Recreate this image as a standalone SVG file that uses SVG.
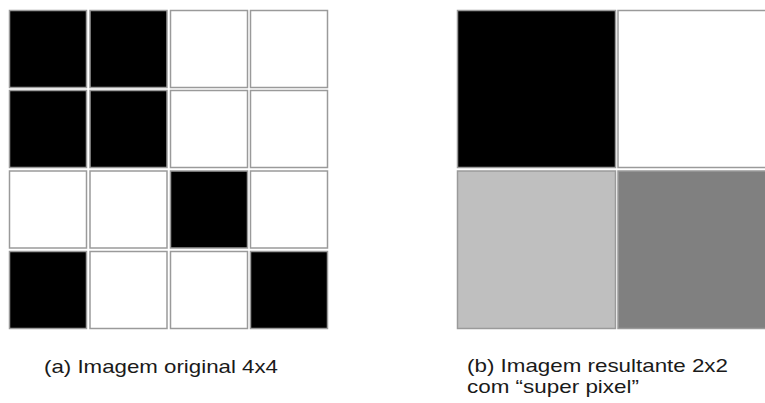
<svg xmlns="http://www.w3.org/2000/svg" width="765" height="403" viewBox="0 0 765 403">
<style>
rect.c{stroke:#9a9a9a;stroke-width:1.5}
.b{fill:#000}
.w{fill:#fff}
.l{fill:#bfbfbf}
.d{fill:#808080}
text{font-family:"Liberation Sans",Arial,sans-serif;font-size:18.5px;fill:#1a1a1a}
</style>
<rect width="765" height="403" fill="#fff"/>
<g id="grid-a">
<rect class="c b" x="9.5" y="10.5" width="77" height="77"/>
<rect class="c b" x="90" y="10.5" width="77" height="77"/>
<rect class="c w" x="170.5" y="10.5" width="77" height="77"/>
<rect class="c w" x="250.5" y="10.5" width="77" height="77"/>
<rect class="c b" x="9.5" y="90.5" width="77" height="77"/>
<rect class="c b" x="90" y="90.5" width="77" height="77"/>
<rect class="c w" x="170.5" y="90.5" width="77" height="77"/>
<rect class="c w" x="250.5" y="90.5" width="77" height="77"/>
<rect class="c w" x="9.5" y="171" width="77" height="77"/>
<rect class="c w" x="90" y="171" width="77" height="77"/>
<rect class="c b" x="170.5" y="171" width="77" height="77"/>
<rect class="c w" x="250.5" y="171" width="77" height="77"/>
<rect class="c b" x="9.5" y="251.5" width="77" height="77"/>
<rect class="c w" x="90" y="251.5" width="77" height="77"/>
<rect class="c w" x="170.5" y="251.5" width="77" height="77"/>
<rect class="c b" x="250.5" y="251.5" width="77" height="77"/>
</g>
<g id="grid-b">
<rect class="c b" x="457.5" y="10.5" width="158" height="157"/>
<rect class="c w" x="618" y="10.5" width="158" height="157"/>
<rect class="c l" x="457.5" y="171" width="158" height="157.5"/>
<rect class="c d" x="618" y="171" width="158" height="157.5"/>
</g>
<g id="captions">
<text x="44" y="373" textLength="234" lengthAdjust="spacingAndGlyphs">(a) Imagem original 4x4</text>
<text x="467" y="372" textLength="261" lengthAdjust="spacingAndGlyphs">(b) Imagem resultante 2x2</text>
<text x="467" y="392.5" textLength="172" lengthAdjust="spacingAndGlyphs">com “super pixel”</text>
</g>
</svg>
